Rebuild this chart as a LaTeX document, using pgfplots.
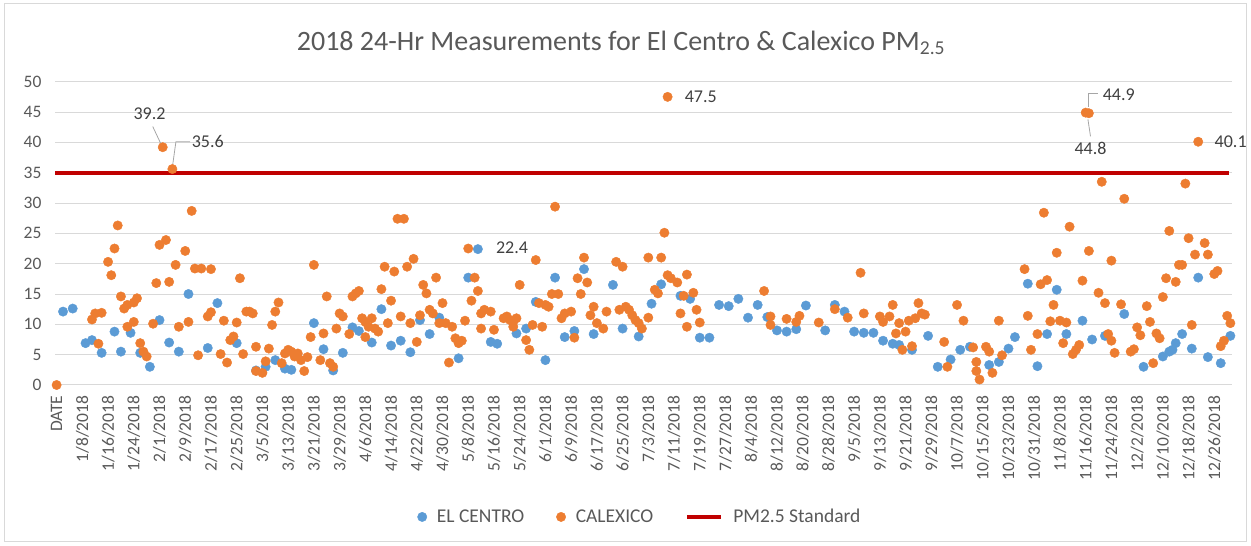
\documentclass[border=0pt]{standalone}
\usepackage{pgfplots}
\pgfplotsset{compat=1.18}
\usepackage{pgfplotstable}
\usepackage{fontspec}
\setmainfont{Carlito}
\definecolor{elc}{HTML}{5B9BD5}
\definecolor{cal}{HTML}{ED7D31}
\definecolor{std}{HTML}{C00000}
\definecolor{txt}{HTML}{595959}
\definecolor{lbl}{HTML}{404040}
\definecolor{grd}{HTML}{D9D9D9}
\definecolor{lead}{HTML}{A6A6A6}

\pgfplotstableread{
x y
2 12.1
5 12.6
9 6.9
11 7.4
14 5.3
18 8.8
20 5.5
23 8.6
26 5.3
29 3.0
32 10.7
35 7.0
38 5.5
41 15.0
47 6.1
50 13.5
56 6.9
62 2.4
65 3.0
68 4.1
71 2.7
73 2.5
80 10.2
83 5.9
86 2.4
89 5.3
92 9.5
94 8.9
98 7.0
101 12.5
104 6.5
107 7.3
110 5.4
113 10.7
116 8.4
119 11.1
125 4.4
128 17.7
131 22.4
135 7.1
137 6.8
143 8.5
146 9.3
149 13.7
152 4.1
155 17.7
158 7.9
161 8.9
164 19.1
167 8.4
173 16.5
176 9.3
181 8.0
185 13.4
188 16.6
194 14.7
197 14.2
200 7.8
203 7.8
206 13.2
209 13.0
212 14.2
215 11.1
218 13.2
221 11.2
224 9.0
227 8.8
230 9.2
233 13.1
239 9.0
242 13.2
245 12.1
248 8.8
251 8.6
254 8.6
257 7.3
260 6.8
262 6.6
266 5.8
271 8.1
274 3.0
278 4.2
281 5.8
284 6.3
290 3.3
293 3.8
296 6.0
298 7.9
302 16.7
305 3.1
308 8.4
311 15.7
314 8.4
319 10.6
322 7.5
326 8.1
332 11.7
338 3.0
344 4.7
346 5.5
347 5.8
348 6.9
350 8.4
353 6.0
355 17.7
358 4.6
362 3.6
365 8.1
}\elcentro

\pgfplotstableread{
x y
0 0
11 10.8
12 11.8
13 6.8
14 11.9
16 20.3
17 18.1
18 22.5
19 26.3
20 14.6
21 12.6
22 9.6
22 13.2
24 13.6
24 10.4
25 14.3
26 6.9
27 5.5
28 4.7
30 10.1
31 16.8
32 23.1
33 39.2
34 23.9
35 17.0
36 35.6
37 19.8
38 9.6
40 22.1
41 10.4
42 28.7
43 19.2
44 4.9
45 19.2
47 11.3
48 19.1
48 12.0
51 5.1
52 10.6
53 3.7
54 7.4
55 8.0
56 10.3
57 17.6
58 5.1
59 12.1
60 12.1
61 11.8
62 6.3
62 2.3
64 2.0
65 3.9
66 6.0
67 9.9
68 12.1
69 13.6
70 3.6
71 5.2
72 5.8
73 5.5
74 4.7
75 5.2
76 4.1
77 2.3
78 4.6
79 7.9
80 19.8
82 4.1
83 8.5
84 14.6
85 3.6
86 3.0
87 9.3
88 11.8
89 11.3
91 8.4
92 14.6
93 15.1
94 15.5
95 11.0
96 7.9
96 10.4
97 9.6
98 11.0
99 9.3
100 8.8
101 15.8
102 19.5
103 10.2
104 13.9
105 18.7
106 27.4
107 11.3
108 27.4
109 19.5
110 10.2
111 20.8
112 7.1
113 11.5
114 16.5
115 15.1
116 12.4
117 11.8
118 17.7
119 10.2
120 13.5
121 10.2
122 3.7
123 9.6
124 7.7
125 6.9
126 7.3
127 10.6
128 22.5
129 13.9
130 17.7
131 15.5
132 11.8
132 9.3
133 12.4
135 12.1
136 9.1
139 11.0
140 11.3
141 10.7
142 10.4
142 9.6
143 11.0
144 16.5
146 7.4
147 5.8
148 9.9
149 20.6
150 13.5
151 9.6
152 13.2
153 12.9
154 15.0
155 29.4
156 15.0
157 11.0
158 11.8
160 12.1
161 7.8
162 17.6
163 15.0
164 21.0
165 16.9
166 11.5
167 12.9
168 10.2
170 9.3
171 12.1
174 20.3
175 12.4
176 19.5
177 12.9
178 12.4
179 11.5
180 10.7
181 10.2
182 9.3
184 11.1
184 21.0
186 15.7
187 15.1
188 21.0
189 25.1
190 47.5
190 18.1
191 17.6
193 16.9
194 11.8
195 14.7
196 9.6
196 18.2
198 15.2
199 12.4
200 10.3
220 15.5
222 11.3
222 9.9
227 10.9
230 10.4
231 11.4
237 10.3
242 12.5
246 11.1
250 18.5
251 11.8
256 11.3
257 10.4
259 11.3
260 13.2
261 8.5
262 10.2
263 5.8
264 8.8
265 10.6
266 6.4
267 11.0
268 13.5
269 11.8
270 11.6
276 7.1
277 3.0
280 13.2
282 10.6
285 6.2
286 2.3
286 3.8
287 0.9
289 6.3
290 5.5
291 2.0
293 10.6
294 4.9
301 19.1
302 11.4
303 5.8
305 8.4
306 16.6
307 28.4
308 17.3
309 10.5
310 13.2
311 21.8
312 10.6
313 6.9
314 10.3
315 26.1
316 5.1
317 5.8
318 6.6
319 17.2
320 44.9
321 44.8
321 22.1
324 15.2
325 33.5
326 13.5
327 8.4
328 20.5
328 7.3
329 5.3
331 13.3
332 30.7
334 5.5
335 5.9
336 9.5
337 8.2
339 13.0
340 10.4
341 3.6
342 8.5
343 7.7
344 14.5
345 17.6
346 25.4
348 17.0
349 19.8
350 19.8
351 33.2
352 24.2
353 9.9
354 21.5
355 40.1
357 23.4
358 21.5
360 18.3
361 18.8
362 6.4
363 7.3
364 11.4
365 10.2
}\calexico

\begin{document}
\begin{tikzpicture}
\useasboundingbox (0,0) rectangle (1251pt,546pt);
\draw[grd, line width=1pt] (4.5pt,4.5pt) rectangle (1246.5pt,542.5pt);
\node[text=txt, font=\fontsize{28}{32}\selectfont] at (621pt,503pt)
  {2018 24-Hr Measurements for El Centro \& Calexico PM\textsubscript{2.5}};
\begin{axis}[
  at={(55pt,161pt)}, anchor=south west, scale only axis,
  width=1177pt, height=303.3pt,
  xmin=-0.5, xmax=365.5, ymin=0, ymax=50,
  ytick={0,5,...,50},
  xtick={0,8,...,360},
  xticklabels={DATE,1/8/2018,1/16/2018,1/24/2018,2/1/2018,2/9/2018,2/17/2018,2/25/2018,3/5/2018,3/13/2018,3/21/2018,3/29/2018,4/6/2018,4/14/2018,4/22/2018,4/30/2018,5/8/2018,5/16/2018,5/24/2018,6/1/2018,6/9/2018,6/17/2018,6/25/2018,7/3/2018,7/11/2018,7/19/2018,7/27/2018,8/4/2018,8/12/2018,8/20/2018,8/28/2018,9/5/2018,9/13/2018,9/21/2018,9/29/2018,10/7/2018,10/15/2018,10/23/2018,10/31/2018,11/8/2018,11/16/2018,11/24/2018,12/2/2018,12/10/2018,12/18/2018,12/26/2018},
  ymajorgrids, grid style={grd, line width=1pt},
  axis line style={draw=none}, tick style={draw=none},
  ticklabel style={font=\fontsize{17.5}{20}\selectfont, text=txt},
  /pgf/number format/assume math mode=true,
  yticklabel style={xshift=-10pt},
  xticklabel style={yshift=-7pt, rotate=90, anchor=east},
  clip=false,
  legend columns=3,
  legend cell align=left,
  legend style={at={(0.497,-0.435)}, anchor=center, draw=none, fill=none,
    font=\fontsize{19.5}{22}\selectfont, text=txt,
    /tikz/every odd column/.append style={column sep=8pt},
    /tikz/every even column/.append style={column sep=30pt}},
]
\addplot[std, line width=4pt, forget plot] coordinates {(-0.5,35) (364.5,35)};
\addplot[only marks, mark=*, mark size=4.7pt, color=elc] table {\elcentro};
\addlegendentry{EL CENTRO}
\addplot[only marks, mark=*, mark size=4.7pt, color=cal] table {\calexico};
\addlegendentry{CALEXICO}
\addlegendimage{legend image code/.code={\draw[std, line width=4pt] (0pt,0pt) -- (34pt,0pt);}}
\addlegendentry{PM2.5 Standard}

\begin{scope}[every node/.style={text=lbl, font=\fontsize{18}{20}\selectfont}]
\node at (axis cs:28.9,44.8) {39.2};
\draw[lead, line width=0.8pt] (axis cs:29.9,42.6) -- (axis cs:32.3,39.9);
\node at (axis cs:47.0,40.1) {35.6};
\draw[lead, line width=0.8pt] (axis cs:36.1,36.3) -- (axis cs:37.1,40.1) -- (axis cs:41.5,40.1);
\node at (axis cs:200.3,47.5) {47.5};
\node at (axis cs:141.6,22.7) {22.4};
\node at (axis cs:330.3,47.8) {44.9};
\draw[lead, line width=0.8pt] (axis cs:320.7,45.9) -- (axis cs:320.7,48.0) -- (axis cs:323.8,48.0);
\node at (axis cs:321.5,39.0) {44.8};
\draw[lead, line width=0.8pt] (axis cs:320.7,43.8) -- (axis cs:321.5,41.0);
\node at (axis cs:365.1,40.1) {40.1};
\end{scope}
\end{axis}
\end{tikzpicture}
\end{document}
